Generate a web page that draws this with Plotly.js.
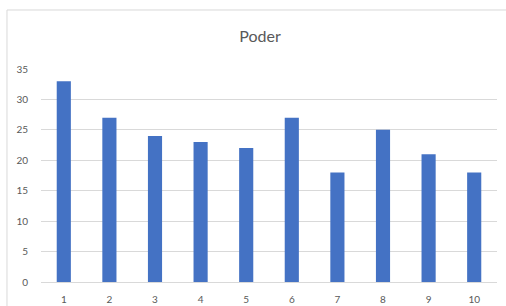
<!DOCTYPE html>
<html><head><meta charset="utf-8">
<script src="https://cdn.plot.ly/plotly-3.0.1.min.js"></script>
<style>html,body{margin:0;padding:0;background:#fff;}#chart{width:506px;height:306px;}</style>
</head><body><div id="chart"></div>
<script>
var categories = ['1','2','3','4','5','6','7','8','9','10'];
var values = [33, 27, 24, 23, 22, 27, 18, 25, 21, 18];
var yTicks = [0, 5, 10, 15, 20, 25, 30, 35];

var trace = {
  type: 'bar',
  x: categories,
  y: values,
  marker: {color: '#4472C4'},
  hoverinfo: 'x+y'
};
var layout = {
  width: 506, height: 306,
  margin: {l: 41, r: 9, t: 69, b: 24},
  paper_bgcolor: '#ffffff', plot_bgcolor: 'rgba(0,0,0,0)',
  bargap: 0.69,
  showlegend: false,
  font: {family: 'Lato, "Open Sans", sans-serif', color: '#595959', size: 10},
  title: {text: 'Poder', font: {size: 16, color: '#595959', family: 'Lato, "Open Sans", sans-serif'},
          x: 0.514, xref: 'container', xanchor: 'center', y: 0.88, yref: 'container', yanchor: 'middle'},
  xaxis: {type: 'category', range: [-0.5, 9.5], showgrid: false, zeroline: false,
          showline: true, linecolor: '#d9d9d9', linewidth: 1, ticks: '', ticklabelstandoff: 8,
          tickfont: {size: 10, color: '#595959'}},
  yaxis: {range: [0, 35], tickvals: yTicks, showgrid: true, gridcolor: '#d9d9d9', gridwidth: 1,
          zeroline: false, showline: false, ticks: '', ticklabelstandoff: 12,
          tickfont: {size: 10, color: '#595959'}},
  shapes: [{type: 'rect', xref: 'paper', yref: 'paper', x0: -0.0746, x1: 1.2, y0: -0.5, y1: 1.277,
            line: {color: '#d9d9d9', width: 1}, fillcolor: 'rgba(0,0,0,0)', layer: 'below'}]
};
Plotly.newPlot('chart', [trace], layout, {displayModeBar: false, staticPlot: true});
</script></body></html>
